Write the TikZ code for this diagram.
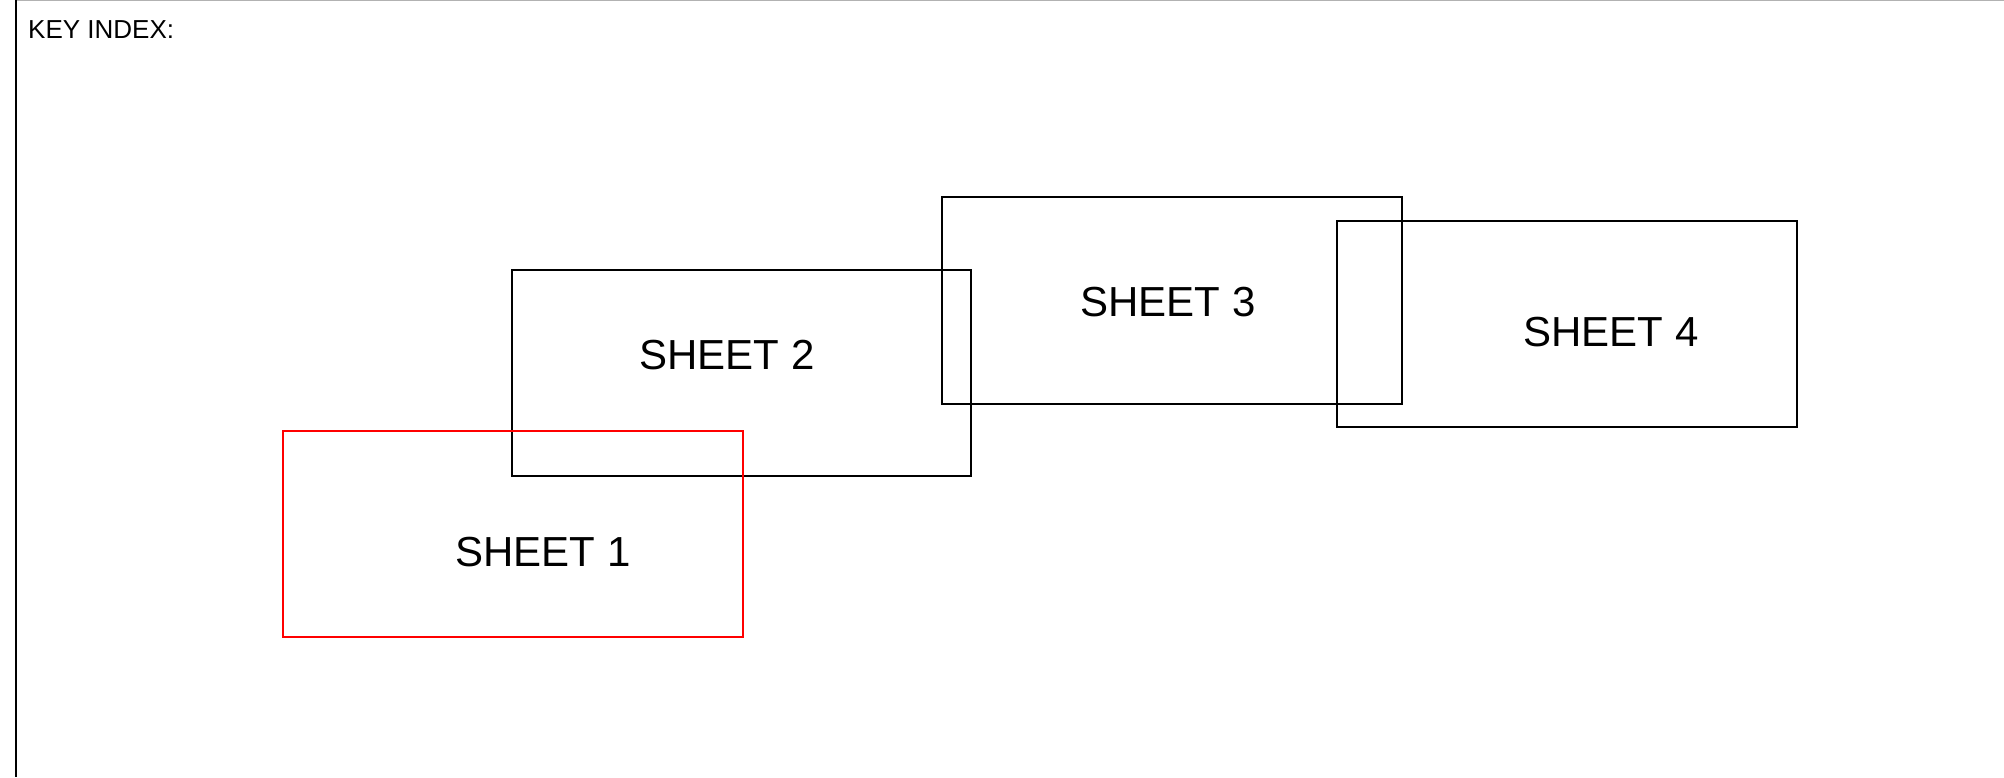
\documentclass[tikz,border=0pt]{standalone}
\usepackage{fontspec}
\setmainfont{Liberation Sans}
\begin{document}
\begin{tikzpicture}[x=1pt,y=-1pt,
  sheetbox/.style={draw=black,line width=2.2pt},
  sheetlabel/.style={anchor=base,inner sep=0pt,font=\fontsize{42}{50}\selectfont},
  frameline/.style={line width=2.2pt}]
\useasboundingbox (0,0) rectangle (2004,777);
\fill[white] (0,0) rectangle (2004,777);
% frame
\draw[gray!60,line width=1.5pt] (16,0.7) -- (2004,0.7);
\draw[frameline] (16,0) -- (16,777);
\node[anchor=base west,inner sep=0pt,font=\fontsize{26}{30}\selectfont] (key) at (28,38) {KEY INDEX:};
% sheets
\draw[sheetbox] (512,270) rectangle (971,476);
\draw[sheetbox] (942,197) rectangle (1402,404);
\draw[sheetbox] (1337,221) rectangle (1797,427);
\draw[sheetbox,draw=red] (283,431) rectangle (743,637);
\node[sheetlabel] (l1) at (543,566) {SHEET 1};
\node[sheetlabel] (l2) at (727,369) {SHEET 2};
\node[sheetlabel] (l3) at (1168,316) {SHEET 3};
\node[sheetlabel] (l4) at (1611,346) {SHEET 4};
\end{tikzpicture}
\end{document}
